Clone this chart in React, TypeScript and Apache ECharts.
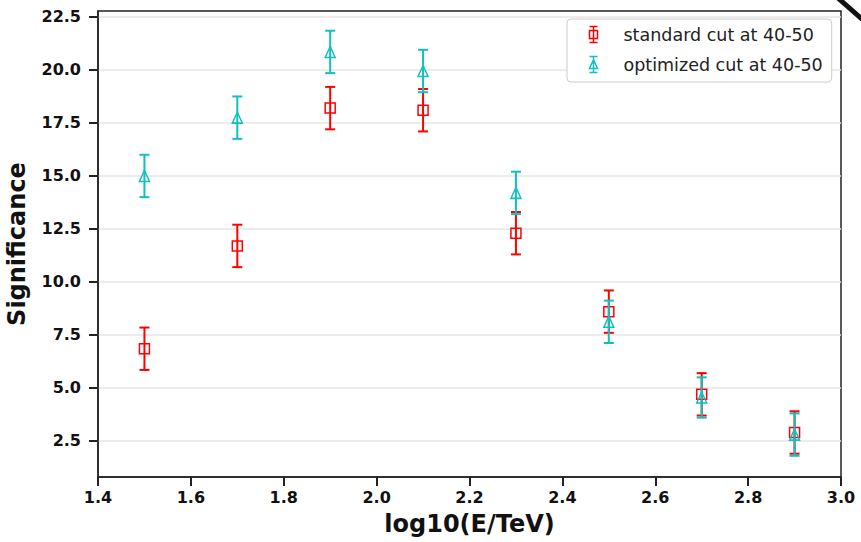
import React, { useEffect, useRef } from "react";
import * as echarts from "echarts";

const energyBins = [1.5, 1.7, 1.9, 2.1, 2.3, 2.5, 2.7, 2.9];
const standardSig = [6.85, 11.7, 18.2, 18.1, 12.3, 8.6, 4.7, 2.9];
const standardErr = [1.0, 1.0, 1.0, 1.0, 1.0, 1.0, 1.0, 1.0];
const optimizedSig = [15.0, 17.75, 20.85, 19.95, 14.2, 8.12, 4.55, 2.8];
const optimizedErr = [1.0, 1.0, 1.0, 1.0, 1.0, 1.0, 0.95, 1.0];
const yTicks = [2.5, 5.0, 7.5, 10.0, 12.5, 15.0, 17.5, 20.0, 22.5];
const seriesNames = ["standard cut at 40-50", "optimized cut at 40-50"];

const RED = "#ff0000";
const CYAN = "#12bfbf";
const FONT = "DejaVu Sans";

function errorBarSeries(name: string, xs: number[], ys: number[], es: number[], color: string, z: number) {
  return {
    type: "custom",
    name: name + " err",
    z,
    data: xs.map((x, i) => [x, ys[i], es[i]]),
    encode: { x: 0, y: [1] },
    renderItem: (params: any, api: any) => {
      const x = api.value(0);
      const y = api.value(1);
      const e = api.value(2);
      const top = api.coord([x, y + e]);
      const bot = api.coord([x, y - e]);
      const cap = 5;
      const style = { stroke: color, lineWidth: 2, fill: "none" };
      return {
        type: "group",
        children: [
          { type: "line", shape: { x1: top[0], y1: top[1], x2: bot[0], y2: bot[1] }, style },
          { type: "line", shape: { x1: top[0] - cap, y1: top[1], x2: top[0] + cap, y2: top[1] }, style },
          { type: "line", shape: { x1: bot[0] - cap, y1: bot[1], x2: bot[0] + cap, y2: bot[1] }, style },
        ],
      };
    },
  };
}

export default function App() {
  const ref = useRef<HTMLDivElement>(null);
  useEffect(() => {
    if (!ref.current) return;
    const chart = echarts.init(ref.current, null, { renderer: "svg" });
    const squareIcon = "path://M0,0L8,0M4,0L4,16M0,16L8,16M0,4L8,4L8,12L0,12Z";
    const triIcon = "path://M0,0L8,0M4,0L4,16M0,16L8,16M4,3L8,12L0,12Z";
    chart.setOption({
      animation: false,
      backgroundColor: "#fff",
      grid: {
        left: 98,
        right: 20,
        top: 11,
        bottom: 65,
        outerBoundsMode: "none",
        containLabel: false,
        show: true,
        borderColor: "#222",
        borderWidth: 1.5,
        backgroundColor: "transparent",
      },
      legend: {
        orient: "vertical",
        left: 567,
        top: 19,
        padding: [5, 9, 7, 20],
        itemGap: 9,
        itemWidth: 8,
        itemHeight: 16,
        selectedMode: false,
        backgroundColor: "#fff",
        borderColor: "#cccccc",
        borderWidth: 1,
        borderRadius: 4,
        textStyle: { fontFamily: FONT, fontSize: 17.5, color: "#222", padding: [0, 0, 0, 21] },
        data: [
          {
            name: seriesNames[0],
            icon: squareIcon,
            itemStyle: { color: "none", borderColor: RED, borderWidth: 1.5 },
          },
          {
            name: seriesNames[1],
            icon: triIcon,
            itemStyle: { color: "none", borderColor: CYAN, borderWidth: 1.5 },
          },
        ],
      },
      xAxis: {
        type: "value",
        min: 1.4,
        max: 3.0,
        interval: 0.2,
        name: "log10(E/TeV)",
        nameLocation: "middle",
        nameGap: 35,
        nameTextStyle: { fontFamily: FONT, fontSize: 24, fontWeight: "bold", color: "#111" },
        axisLine: { lineStyle: { color: "#222", width: 1.5 } },
        axisTick: { show: true, length: 9, lineStyle: { color: "#222", width: 2 } },
        axisLabel: {
          fontFamily: FONT,
          fontSize: 16,
          fontWeight: "bold",
          color: "#111",
          margin: 12,
          formatter: (v: number) => v.toFixed(1),
        },
        splitLine: { show: false },
      },
      yAxis: {
        type: "value",
        min: 0.8,
        max: 22.78,
        name: "Significance",
        nameLocation: "middle",
        nameGap: 69,
        nameRotate: 90,
        nameTextStyle: { fontFamily: FONT, fontSize: 24, fontWeight: "bold", color: "#111" },
        axisLine: { show: true, lineStyle: { color: "#222", width: 1.5 } },
        axisTick: { show: true, length: 9, customValues: yTicks, lineStyle: { color: "#222", width: 2 } },
        axisLabel: {
          fontFamily: FONT,
          fontSize: 16,
          fontWeight: "bold",
          color: "#111",
          margin: 17,
          customValues: yTicks,
          formatter: (v: number) => v.toFixed(1),
        },
        splitLine: { show: true, customValues: yTicks, lineStyle: { color: "#e6e6e6", width: 1.5 } },
      },
      series: [
        errorBarSeries(seriesNames[0], energyBins, standardSig, standardErr, RED, 2),
        {
          type: "scatter",
          name: seriesNames[0],
          z: 3,
          symbol: "rect",
          symbolSize: [10, 10],
          itemStyle: { color: "rgba(0,0,0,0)", borderColor: RED, borderWidth: 1.5, opacity: 1 },
          data: energyBins.map((x, i) => [x, standardSig[i]]),
        },
        errorBarSeries(seriesNames[1], energyBins, optimizedSig, optimizedErr, CYAN, 4),
        {
          type: "scatter",
          name: seriesNames[1],
          z: 5,
          symbol: "triangle",
          symbolSize: [10, 11],
          itemStyle: { color: "rgba(0,0,0,0)", borderColor: CYAN, borderWidth: 1.5, opacity: 1 },
          data: energyBins.map((x, i) => [x, optimizedSig[i]]),
        },
      ],
      graphic: [
        {
          type: "line",
          shape: { x1: 838, y1: -2, x2: 863, y2: 20 },
          style: { stroke: "#111", lineWidth: 5 },
          z: 100,
        },
      ],
    });
    return () => chart.dispose();
  }, []);
  return <div ref={ref} style={{ width: 861, height: 542, position: "absolute", left: 0, top: 0 }} />;
}
